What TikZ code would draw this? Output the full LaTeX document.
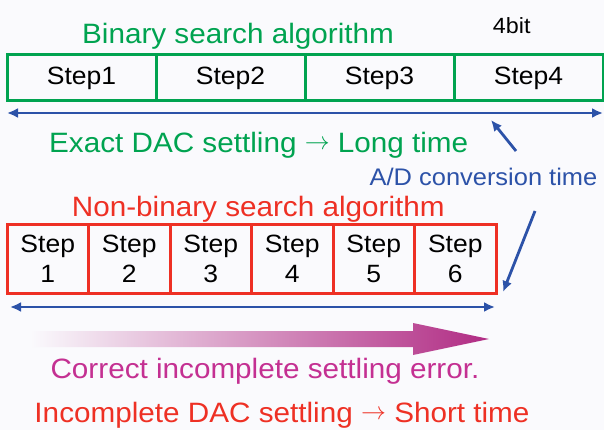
\documentclass[tikz,border=0pt]{standalone}
\usepackage{fontspec}
\setmainfont{Liberation Sans}[FakeStretch=1.06]
\usepackage{tikz}
\usetikzlibrary{calc,positioning,arrows.meta,chains}
\definecolor{binGreen}{RGB}{0,163,80}
\definecolor{nbRed}{RGB}{238,48,36}
\definecolor{timeBlue}{RGB}{44,82,168}
\definecolor{fixMagenta}{RGB}{196,48,146}
\definecolor{paper}{RGB}{250,250,253}
\newcommand{\smallarrow}{\raisebox{3pt}{\fontsize{25}{25}\selectfont$\rightarrow$}}
\tikzset{
>={Latex[length=11pt,width=10pt]},
  bincell/.style={
    rectangle,
    draw=binGreen, line width=3pt,
    minimum width=149pt,
    minimum height=46pt,
    inner sep=0pt, outer sep=0pt,
    font=\fontsize{25}{30}\selectfont,
    on chain},
  nbcell/.style={
    rectangle,
    draw=nbRed, line width=3pt,
    minimum width=81.5pt,
    minimum height=69pt,
    inner sep=0pt, outer sep=0pt,
    align=center,
    font=\fontsize{25}{30}\selectfont,
    on chain},
  span/.style={draw=timeBlue, line width=2.8pt, <->},
  pointer/.style={draw=timeBlue, line width=2.8pt, ->},
  headline/.style={anchor=base, inner sep=0pt, font=\fontsize{28}{30}\selectfont},
}
\begin{document}
\begin{tikzpicture}[x=1pt, y=-1pt]
		\fill[paper] (0,0) rectangle (604,430);
		\useasboundingbox (0,0) rectangle (604,430);

		\node[headline, text=binGreen] (bin-title) at (238,43.3) {Binary search algorithm};
		\node[anchor=base, inner sep=0pt, font=\fontsize{22}{24}\selectfont] (bits) at (511.7,33.3) {4bit};

		\begin{scope}[start chain=bin going right, node distance=0pt]
			\node[bincell] (bin-1) at (81.5,78) {Step1};
			\node[bincell] (bin-2) {Step2};
			\node[bincell] (bin-3) {Step3};
			\node[bincell] (bin-4) {Step4};
		\end{scope}
		\draw[span] ([yshift=-12pt]bin-1.south west) -- ([yshift=-12pt]bin-4.south east);

		\node[headline, text=binGreen] (bin-note) at (258.7,152.7) {Exact DAC settling \smallarrow{} Long time};
		\node[anchor=base, inner sep=0pt, text=timeBlue, font=\fontsize{24}{26}\selectfont]
			(adc-time) at (483.5,186) {A/D conversion time};
		\coordinate (adc-up) at (516,151);
		\coordinate (adc-down) at (535,211);
		\coordinate (bin-mark) at (491,120);
		\coordinate (nb-mark) at (503,292);
		\draw[pointer] (adc-up) -- (bin-mark);

		\node[headline, text=nbRed] (nb-title) at (258.3,216.7) {Non-binary search algorithm};
		\begin{scope}[start chain=nb going right, node distance=0pt]
			\node[nbcell] (nb-1) at (47.75,258.5) {Step\\1};
			\node[nbcell] (nb-2) {Step\\2};
			\node[nbcell] (nb-3) {Step\\3};
			\node[nbcell] (nb-4) {Step\\4};
			\node[nbcell] (nb-5) {Step\\5};
			\node[nbcell] (nb-6) {Step\\6};
		\end{scope}
		\draw[span] ([shift={(3pt,-14pt)}]nb-1.south west) -- ([shift={(-1pt,-14pt)}]nb-6.south east);
		\draw[pointer] (adc-down) -- (nb-mark);

		% fading arrow
		\shade[left color=paper, right color=fixMagenta!90!black]
			(30,331) -- (413,331) -- (413,323) -- (489,339) -- (413,355) -- (413,347) -- (30,347) -- cycle;
		\node[headline, text=fixMagenta] (fix-note) at (265,378) {Correct incomplete settling error.};
		\node[headline, text=nbRed] (nb-note) at (282,422) {Incomplete DAC settling \smallarrow{} Short time};
	\end{tikzpicture}
\end{document}
